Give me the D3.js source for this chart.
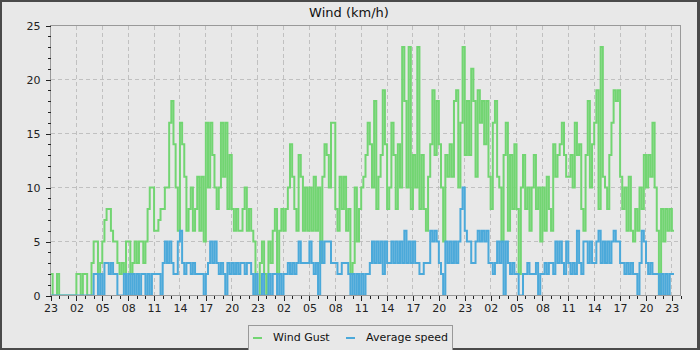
<!DOCTYPE html>
<html>
<head>
<meta charset="utf-8">
<script src="https://cdn.jsdelivr.net/npm/d3@7/dist/d3.min.js"></script>
<style>
body { margin: 0; }
svg { display: block; font-family: "DejaVu Sans", sans-serif; }
</style>
</head>
<body>
<svg></svg>
<script>
// readings every 15 min, first one at 23:00
var stepHours = 0.25;
var spanHours = 73;

var hourLabels = ['23', '02', '05', '08', '11', '14', '17', '20',
    '23', '02', '05', '08', '11', '14', '17', '20',
    '23', '02', '05', '08', '11', '14', '17', '20', '23'];

var seriesNames = ['Wind Gust', 'Average speed'];
var seriesColors = ['#72d572', '#4ba9da'];

// km/h, one row = 3 hours
var gust = [
    2, 0, 0, 2,  0, 0, 0, 0,  0, 0, 0, 0,
    2, 2, 0, 2,  2, 0, 0, 3,  5, 5, 2, 3,
    5, 7, 8, 8,  6, 5, 5, 3,  2, 3, 2, 5,
    5, 2, 3, 5,  3, 5, 5, 3,  5, 8, 10, 10,
    6, 6, 7, 8,  8, 10, 10, 16,  18, 14, 10, 6,
    16, 14, 11, 6,  8, 10, 6, 8,  11, 6, 11, 5,
    16, 10, 16, 13,  10, 8, 10, 16,  11, 16, 8, 13,
    8, 6, 8, 6,  6, 8, 10, 6,  8, 6, 5, 0,
    0, 3, 5, 2,  0, 5, 3, 6,  8, 2, 6, 8,
    6, 8, 10, 14,  11, 8, 6, 13,  11, 6, 10, 6,
    10, 6, 11, 6,  10, 3, 11, 14,  13, 10, 16, 16,
    8, 6, 11, 8,  11, 6, 8, 2,  3, 10, 5, 8,
    10, 11, 13, 16,  14, 10, 18, 8,  11, 13, 19, 14,
    8, 10, 16, 13,  8, 14, 10, 23,  18, 10, 23, 8,
    13, 10, 23, 8,  13, 8, 6, 11,  14, 19, 13, 18,
    14, 10, 5, 13,  11, 14, 11, 18,  19, 10, 16, 23,
    13, 18, 13, 21,  18, 11, 19, 16,  18, 14, 18, 11,
    8, 16, 18, 11,  10, 5, 13, 16,  6, 13, 8, 14,
    8, 2, 10, 13,  8, 10, 6, 10,  13, 8, 10, 5,
    10, 6, 11, 8,  6, 14, 11, 13,  14, 16, 13, 11,
    11, 13, 10, 16,  13, 14, 8, 6,  13, 18, 10, 14,
    16, 19, 8, 23,  11, 10, 8, 13,  16, 19, 18, 19,
    11, 8, 10, 6,  11, 6, 5, 8,  6, 10, 8, 13,
    10, 13, 11, 16,  10, 6, 0, 8,  5, 8, 6, 8,
    6
];

var avg = [
    0, 0, 0, 0,  0, 0, 0, 0,  0, 0, 0, 0,
    0, 0, 0, 0,  0, 0, 0, 0,  2, 2, 0, 2,
    0, 3, 3, 2,  3, 2, 2, 0,  0, 0, 2, 0,
    2, 0, 2, 0,  2, 0, 2, 2,  0, 2, 0, 2,
    2, 2, 2, 0,  3, 5, 3, 5,  3, 2, 2, 5,
    6, 3, 2, 3,  3, 2, 3, 2,  2, 2, 2, 0,
    2, 3, 5, 3,  5, 3, 2, 3,  2, 0, 3, 2,
    3, 2, 3, 2,  3, 3, 2, 3,  3, 2, 0, 2,
    0, 0, 2, 0,  0, 2, 0, 2,  2, 0, 2, 0,
    2, 2, 3, 2,  3, 2, 3, 5,  3, 3, 3, 3,
    5, 3, 2, 3,  0, 5, 3, 5,  5, 5, 3, 3,
    3, 2, 2, 3,  3, 3, 2, 0,  2, 0, 2, 0,
    2, 0, 2, 2,  3, 5, 3, 5,  3, 5, 2, 5,
    3, 3, 5, 3,  5, 3, 5, 3,  6, 3, 5, 3,
    5, 3, 3, 2,  2, 3, 3, 3,  6, 5, 6, 5,
    3, 2, 0, 5,  3, 5, 3, 5,  3, 5, 8, 10,
    6, 5, 5, 3,  3, 5, 6, 5,  6, 5, 6, 3,
    3, 2, 3, 5,  3, 5, 0, 5,  3, 2, 3, 2,
    2, 0, 0, 2,  2, 3, 2, 2,  2, 3, 0, 2,
    2, 3, 2, 3,  3, 2, 5, 3,  5, 3, 2, 5,
    3, 2, 3, 2,  6, 3, 2, 5,  5, 3, 5, 3,
    3, 5, 6, 3,  5, 3, 5, 3,  5, 6, 5, 5,
    3, 3, 2, 3,  2, 3, 2, 2,  0, 3, 6, 5,
    3, 2, 3, 2,  2, 2, 0, 2,  0, 2, 0, 2,
    2
];

var w = 700,
    h = 350,
    plotL = 50.5,
    plotR = 680.5,
    plotT = 25.5,
    plotB = 295.5;

var svg = d3.select('svg')
    .attr('width', w)
    .attr('height', h);

// frame
svg.append('rect')
    .attr('width', w)
    .attr('height', h)
    .attr('fill', '#4a4a4a');

svg.append('rect')
    .attr('x', 2)
    .attr('y', 2)
    .attr('width', w - 5)
    .attr('height', h - 4)
    .attr('fill', '#e8e8e8');

var x = d3.scaleLinear()
    .domain([0, spanHours])
    .range([plotL, plotR]);

var y = d3.scaleLinear()
    .domain([0, 25])
    .range([plotB, plotT]);

// TITLE
svg.append('text')
    .attr('x', 349)
    .attr('y', 17)
    .attr('text-anchor', 'middle')
    .attr('font-size', 13)
    .attr('fill', '#111')
    .text('Wind (km/h)');

//GRID
var grid = svg.append('g')
    .attr('stroke', '#c0c0c0')
    .attr('stroke-dasharray', '4,3')
    .attr('shape-rendering', 'crispEdges');

grid.selectAll('.hgrid')
    .data([5, 10, 15, 20])
    .enter().append('line')
    .attr('x1', plotL)
    .attr('x2', plotR)
    .attr('y1', function(d) { return y(d); })
    .attr('y2', function(d) { return y(d); });

grid.selectAll('.vgrid')
    .data(d3.range(3, spanHours, 3))
    .enter().append('line')
    .attr('x1', function(d) { return x(d); })
    .attr('x2', function(d) { return x(d); })
    .attr('y1', plotT)
    .attr('y2', plotB);

//SERIES
var plot = svg.append('g');

svg.append('clipPath')
    .attr('id', 'plotClip')
    .append('rect')
    .attr('x', plotL)
    .attr('y', plotT - 2)
    .attr('width', plotR - plotL)
    .attr('height', plotB - plotT + 2);

var line = d3.line()
    .x(function(d) { return x(d[0]); })
    .y(function(d) { return y(d[1]); })
    .curve(d3.curveStepAfter);

function toPoints(values) {
    var pts = values.map(function(v, i) { return [i * stepHours, v]; });
    pts.push([values.length * stepHours, values[values.length - 1]]);
    return pts;
}

[gust, avg].forEach(function(values, k) {
    plot.append('path')
        .attr('clip-path', 'url(#plotClip)')
        .attr('d', line(toPoints(values)))
        .attr('fill', 'none')
        .attr('stroke', seriesColors[k])
        .attr('stroke-width', 2);
});

// plot border
svg.append('rect')
    .attr('x', plotL)
    .attr('y', plotT)
    .attr('width', plotR - plotL)
    .attr('height', plotB - plotT)
    .attr('fill', 'none')
    .attr('stroke', '#999')
    .attr('shape-rendering', 'crispEdges');

//AXES
function styleAxis(g) {
    g.select('.domain').remove();
    g.selectAll('.tick line').attr('stroke', '#222').attr('shape-rendering', 'crispEdges');
    g.selectAll('.tick text').attr('fill', '#222').attr('font-size', 11)
        .attr('font-family', '"DejaVu Sans", sans-serif');
}

svg.append('g')
    .attr('transform', 'translate(' + plotL + ',0)')
    .call(d3.axisLeft(y).tickValues(d3.range(0, 26)).tickSize(3).tickFormat(''))
    .call(styleAxis);

svg.append('g')
    .attr('transform', 'translate(' + plotL + ',0)')
    .call(d3.axisLeft(y).tickValues(d3.range(0, 26, 5)).tickSize(5).tickPadding(5))
    .call(styleAxis);

svg.append('g')
    .attr('transform', 'translate(0,' + plotB + ')')
    .call(d3.axisBottom(x).tickValues(d3.range(0, spanHours + 1)).tickSize(3).tickFormat(''))
    .call(styleAxis);

svg.append('g')
    .attr('transform', 'translate(0,' + plotB + ')')
    .call(d3.axisBottom(x).tickValues(d3.range(0, spanHours, 3)).tickSize(5).tickPadding(4)
        .tickFormat(function(d, i) { return hourLabels[i]; }))
    .call(styleAxis);

//LEGEND
var legend = svg.append('g');

legend.append('rect')
    .attr('x', 248.5)
    .attr('y', 325.5)
    .attr('width', 204)
    .attr('height', 26)
    .attr('fill', '#e8e8e8')
    .attr('stroke', '#999');

var legendX = [253, 346];

seriesNames.forEach(function(name, k) {
    legend.append('line')
        .attr('x1', legendX[k])
        .attr('x2', legendX[k] + 9)
        .attr('y1', 338)
        .attr('y2', 338)
        .attr('stroke', seriesColors[k])
        .attr('stroke-width', 2);

    legend.append('text')
        .attr('x', legendX[k] + 20)
        .attr('y', 341)
        .attr('font-size', 11)
        .attr('fill', '#111')
        .text(name);
});
</script>
</body>
</html>
